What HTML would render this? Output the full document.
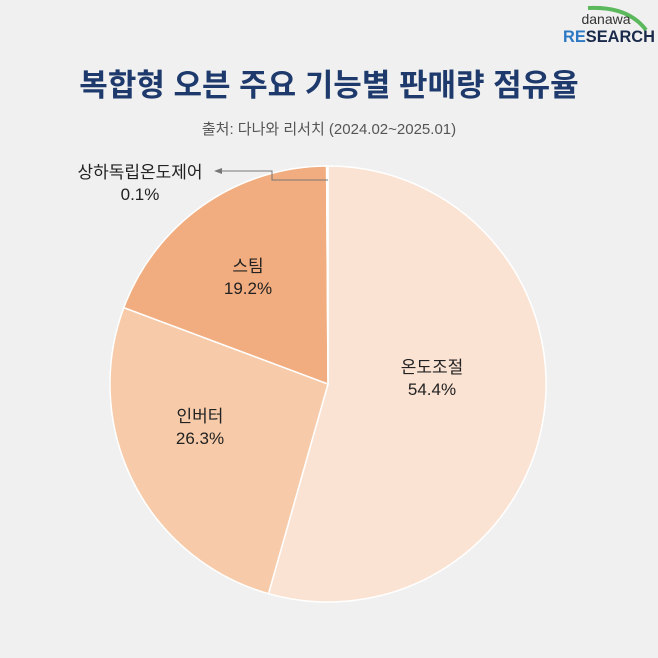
<!DOCTYPE html>
<html><head><meta charset="utf-8"><style>
body{margin:0;background:#f0f0f0;}
svg{display:block}
</style></head><body>
<svg width="658" height="658" viewBox="0 0 658 658" xmlns="http://www.w3.org/2000/svg" font-family="'Liberation Sans','Noto Sans CJK KR',sans-serif">
<rect width="658" height="658" fill="#f0f0f0"/>
<path d="M588,8 Q628,6 646,30" stroke="#5cb85c" stroke-width="4" fill="none"/>
<text x="606" y="24" font-size="14" fill="#333" text-anchor="middle">danawa</text>
<text x="609" y="42" font-size="17" font-weight="bold" fill="#1a2a4a" text-anchor="middle" textLength="92" lengthAdjust="spacingAndGlyphs"><tspan fill="#2b78c5">RE</tspan>SEARCH</text>
<text x="329" y="96" font-size="31" font-weight="bold" fill="#1e3a6c" text-anchor="middle">복합형 오븐 주요 기능별 판매량 점유율</text>
<text x="329" y="134" font-size="15" fill="#555" text-anchor="middle">출처: 다나와 리서치 (2024.02~2025.01)</text>
<g stroke="#fff" stroke-width="1.5">
<path d="M328,384 L328,166 A218,218 0 1 1 268.5,593.7 Z" fill="#fbe3d4"/>
<path d="M328,384 L268.5,593.7 A218,218 0 0 1 123.8,307.6 Z" fill="#f7cba9"/>
<path d="M328,384 L123.8,307.6 A218,218 0 0 1 326.6,166 Z" fill="#f1ad7f"/>
<path d="M328,384 L326.6,166 A218,218 0 0 1 328,166 Z" fill="#e8955f"/>
</g>
<path d="M328,180 L272,180 L272,171 L216,171" stroke="#777" stroke-width="1" fill="none"/>
<path d="M214,171 L222,168 L222,174 Z" fill="#777"/>
<g font-size="17" fill="#222" text-anchor="middle">
<text x="140" y="178">상하독립온도제어</text>
<text x="140" y="200">0.1%</text>
<text x="248" y="272">스팀</text>
<text x="248" y="294">19.2%</text>
<text x="432" y="373">온도조절</text>
<text x="432" y="395">54.4%</text>
<text x="200" y="422">인버터</text>
<text x="200" y="444">26.3%</text>
</g>
</svg>
</body></html>
